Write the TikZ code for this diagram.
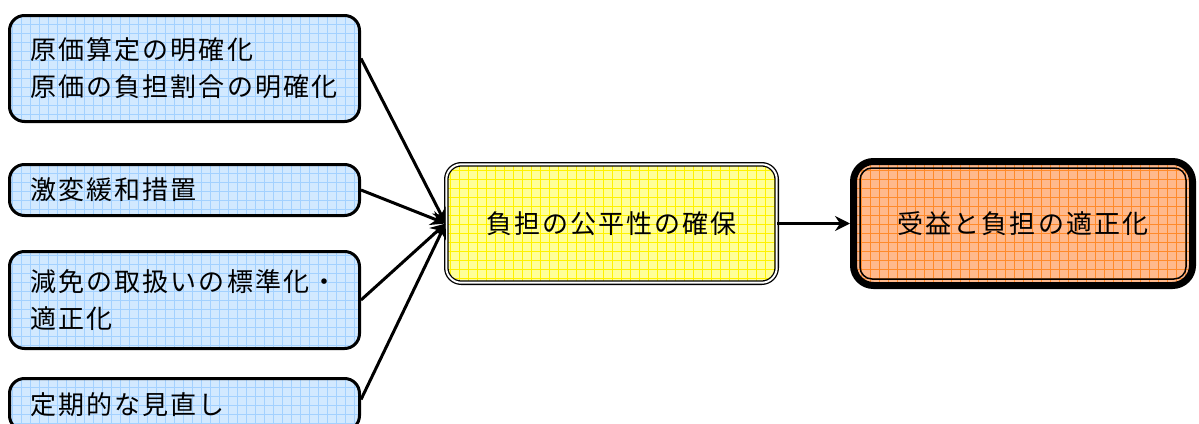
\documentclass[tikz,border=0pt]{standalone}
\usepackage{fontspec}
\setmainfont{Noto Sans CJK JP}[LetterSpace=8]
\usetikzlibrary{arrows.meta}
\definecolor{bluefill}{HTML}{D2E9FF}
\definecolor{bluegrid}{HTML}{A3D1FF}
\definecolor{yelfill}{HTML}{FFFF99}
\definecolor{yelgrid}{HTML}{FFF200}
\definecolor{orfill}{HTML}{FFB98C}
\definecolor{orgrid}{HTML}{FF8A2A}
\tikzset{
  gridfill/.style 2 args={fill=#1, path picture={
    \draw[#2, line width=0.55pt]
      ([xshift=-12pt,yshift=-12pt]path picture bounding box.south west)
      grid[step=9pt]
      ([xshift=12pt,yshift=12pt]path picture bounding box.north east);}},
  txt/.style={font=\fontsize{26pt}{37pt}\selectfont},
  leftbox/.style={draw=black, line width=3pt, rounded corners=15pt,
    gridfill={bluefill}{bluegrid}, anchor=north west, minimum width=350pt,
    text width=308pt, inner xsep=21pt, inner ysep=0pt, align=left, txt},
  midbox/.style={draw=black, double=white, double distance=2pt, line width=1.3pt,
    rounded corners=15pt, gridfill={yelfill}{yelgrid}, minimum width=330.4pt,
    minimum height=118.4pt, align=center, txt},
  endbox/.style={draw=black, line width=7pt, rounded corners=20pt,
    gridfill={orfill}{orgrid}, minimum width=339pt, minimum height=124pt,
    align=center, txt},
  conn/.style={draw=black, line width=3pt, -{Stealth[length=15pt,width=15pt,inset=5pt]}}
}
\begin{document}
\begin{tikzpicture}[x=1pt,y=-1pt]
\useasboundingbox (0,0) rectangle (1199,423);
\node[leftbox, minimum height=106pt] (b1) at (8,14) {原価算定の明確化\\原価の負担割合の明確化};
\node[leftbox, minimum height=51pt] (b2) at (8,163) {激変緩和措置};
\node[leftbox, minimum height=97pt] (b3) at (8,250) {減免の取扱いの標準化・\\適正化};
\node[leftbox, minimum height=52pt] (b4) at (8,377) {定期的な見直し};
\node[midbox] (c) at (611.5,223.5) {負担の公平性の確保};
\node[endbox] (r) at (1023,223.5) {受益と負担の適正化};
\draw[line width=1.5pt, rounded corners=12pt]
  ([xshift=10pt,yshift=-10pt]r.north west) rectangle ([xshift=-10pt,yshift=10pt]r.south east);
\draw[conn] ([yshift=10pt]b1.east) -- (c.west);
\draw[conn] (b2.east) -- (c.west);
\draw[conn] (b3.east) -- (c.west);
\draw[conn] ([yshift=5pt]b4.east) -- (c.west);
\draw[conn] (c.east) -- (r.west);
\end{tikzpicture}
\end{document}
